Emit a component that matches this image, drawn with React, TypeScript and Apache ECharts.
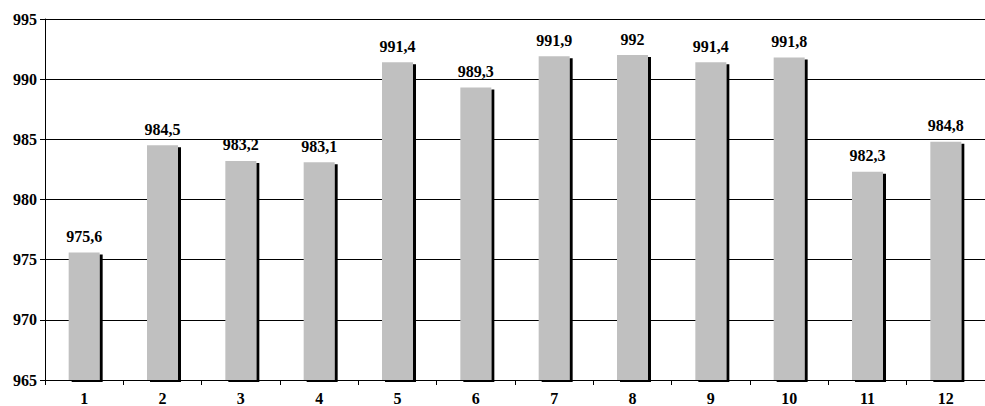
import React, { useEffect, useRef } from "react";
import * as echarts from "echarts";

const categories = ["1", "2", "3", "4", "5", "6", "7", "8", "9", "10", "11", "12"];
const values = [975.6, 984.5, 983.2, 983.1, 991.4, 989.3, 991.9, 992, 991.4, 991.8, 982.3, 984.8];
const yMin = 965;
const yMax = 995;
const yStep = 5;

const FONT = "Liberation Serif, Times New Roman, serif";

export default function App() {
  const ref = useRef<HTMLDivElement>(null);
  useEffect(() => {
    if (!ref.current) return;
    const chart = echarts.init(ref.current, undefined, { renderer: "svg" });
    chart.setOption({
      animation: false,
      backgroundColor: "#ffffff",
      textStyle: { fontFamily: FONT },
      grid: { left: 45, top: 19, width: 952, height: 361, containLabel: false },
      xAxis: {
        type: "category",
        data: categories,
        axisLine: { show: true, lineStyle: { color: "#000", width: 1 } },
        axisTick: { show: true, inside: false, length: 5, lineStyle: { color: "#000" } },
        axisLabel: { color: "#000", fontFamily: FONT, fontWeight: "bold", fontSize: 16, margin: 10 },
        splitLine: { show: false },
      },
      yAxis: {
        type: "value",
        min: yMin,
        max: yMax,
        interval: yStep,
        axisLine: { show: true, lineStyle: { color: "#000", width: 1 } },
        axisTick: { show: true, length: 5, lineStyle: { color: "#000" } },
        axisLabel: { color: "#000", fontFamily: FONT, fontWeight: "bold", fontSize: 16, margin: 8 },
        splitLine: { show: true, lineStyle: { color: "#000", width: 1 } },
      },
      series: [
        {
          type: "bar",
          data: values,
          barWidth: 31,
          itemStyle: {
            color: "#c0c0c0",
            shadowColor: "#000",
            shadowOffsetX: 3,
            shadowOffsetY: 2,
            shadowBlur: 0,
          },
          label: {
            show: true,
            position: "top",
            distance: 8,
            color: "#000",
            fontFamily: FONT,
            fontWeight: "bold",
            fontSize: 16,
            formatter: (p: any) => String(p.value).replace(".", ","),
          },
        },
      ],
    });
    return () => chart.dispose();
  }, []);
  return <div ref={ref} style={{ width: 985, height: 406, position: "absolute", left: 0, top: 0 }} />;
}
